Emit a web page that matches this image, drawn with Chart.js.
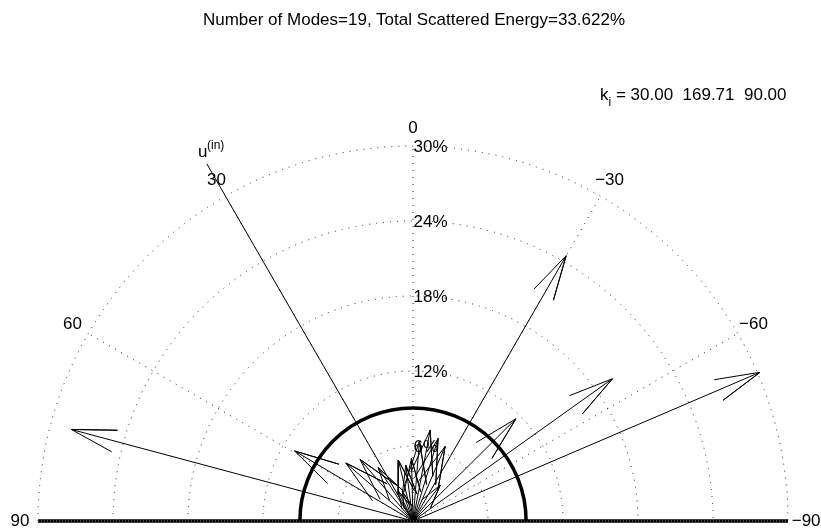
<!DOCTYPE html>
<html>
<head>
<meta charset="utf-8">
<script src="https://cdn.jsdelivr.net/npm/chart.js@4.4.1/dist/chart.umd.min.js"></script>
<style>
  body { margin: 0; background: #fff; }
  #wrap { position: relative; width: 821px; height: 529px; font-family: "Liberation Sans", Arial, sans-serif; }
  #title { position: absolute; left: 0; top: 10px; width: 828px; text-align: center; font-size: 17px; line-height: 20px; color: #000; }
  #kin { position: absolute; left: 600px; top: 85px; font-size: 17px; line-height: 20px; white-space: pre; color: #000; }
  #kin sub { font-size: 12px; vertical-align: -6px; line-height: 0; }
  canvas { position: absolute; left: 0; top: 0; }
</style>
</head>
<body>
<div id="wrap">
  <canvas id="polar" width="821" height="529"></canvas>
  <div id="title">Number of Modes=19, Total Scattered Energy=33.622%</div>
  <div id="kin">k<sub>i</sub> = 30.00  169.71  90.00</div>
</div>
<script>
// scattered modes: angle (deg, from normal, + to the left) and energy (%)
const modeAngles = [75.0, 59.4, 49.2, 40.7, 33.2, 26.3, 19.8, 13.5, 7.4, 1.4, -4.6, -10.7, -16.9, -23.3, -30.0, -37.2, -45.2, -54.5, -66.8];
const modeEnergy = [28.3, 11.0, 7.1, 6.5, 5.1, 2.7, 2.5, 5.0, 4.5, 5.0, 6.4, 7.4, 6.9, 6.5, 24.5, 3.6, 11.6, 19.6, 30.2];

// incident wave
const incidentAngle = 30;
const incidentLength = 33;

// polar grid
const ringTicks = [6, 12, 18, 24, 30];
const ringLabels = ['6%', '12%', '18%', '24%', '30%'];
const spokeAngles = [90, 60, 30, 0, -30, -60, -90];
const spokeLabels = ['90', '60', '30', '0', '\u221230', '\u221260', '\u221290'];
const rMax = 30;
const refRadius = 9.05;

const $ = id => document.getElementById(id);
const rad = a => a * Math.PI / 180;
const polarPt = (a, r) => ({ x: -r * Math.sin(rad(a)), y: r * Math.cos(rad(a)) });
const FONT = '"Liberation Sans", Arial, sans-serif';

// arrow = shaft + two barbs at the tip
function arrowPoints(a, r) {
  const tip = polarPt(a, r);
  const L = Math.min(3.7, 0.55 * r);
  const ux = -tip.x / r, uy = -tip.y / r;
  const barb = s => {
    const c = Math.cos(rad(s)), sn = Math.sin(rad(s));
    return { x: tip.x + L * (ux * c - uy * sn), y: tip.y + L * (ux * sn + uy * c) };
  };
  return [{ x: 0, y: 0 }, tip, barb(14), tip, barb(-14)];
}

const datasets = modeAngles.map((a, i) => ({
  label: 'mode ' + (i + 1),
  data: arrowPoints(a, modeEnergy[i]),
  showLine: true, borderColor: '#000', borderWidth: 1, pointRadius: 0, fill: false
}));
datasets.push({
  label: 'incident',
  data: [{ x: 0, y: 0 }, polarPt(incidentAngle, incidentLength)],
  showLine: true, borderColor: '#000', borderWidth: 1, pointRadius: 0, fill: false
});

const polarDecor = {
  id: 'polarDecor',
  beforeDatasetsDraw(chart) {
    const { ctx, scales: { x, y } } = chart;
    const ox = x.getPixelForValue(0), oy = y.getPixelForValue(0);
    const pr = v => x.getPixelForValue(v) - ox;
    ctx.save();
    ctx.strokeStyle = '#222'; ctx.lineWidth = 1; ctx.setLineDash([1, 6]);
    ringTicks.forEach(r => {
      ctx.beginPath(); ctx.arc(ox, oy, pr(r), Math.PI, 2 * Math.PI); ctx.stroke();
    });
    spokeAngles.forEach(a => {
      const p = polarPt(a, rMax);
      ctx.beginPath(); ctx.moveTo(ox, oy);
      ctx.lineTo(x.getPixelForValue(p.x), y.getPixelForValue(p.y)); ctx.stroke();
    });
    ctx.restore();
  },
  afterDatasetsDraw(chart) {
    const { ctx, scales: { x, y } } = chart;
    const ox = x.getPixelForValue(0), oy = y.getPixelForValue(0);
    const pr = v => x.getPixelForValue(v) - ox;
    ctx.save();
    ctx.strokeStyle = '#000';
    // base line
    ctx.lineWidth = 3.5;
    ctx.beginPath(); ctx.moveTo(x.getPixelForValue(-rMax), oy); ctx.lineTo(x.getPixelForValue(rMax), oy); ctx.stroke();
    ctx.strokeStyle = '#888'; ctx.lineWidth = 1; ctx.setLineDash([1, 2]);
    ctx.beginPath(); ctx.moveTo(x.getPixelForValue(-rMax), oy); ctx.lineTo(x.getPixelForValue(rMax), oy); ctx.stroke();
    ctx.setLineDash([]);
    // reference half circle
    ctx.strokeStyle = '#000'; ctx.lineWidth = 3.5;
    ctx.beginPath(); ctx.arc(ox, oy, pr(refRadius), Math.PI, 2 * Math.PI); ctx.stroke();

    // labels
    ctx.fillStyle = '#000';
    ctx.font = '17px ' + FONT;
    ctx.textAlign = 'left'; ctx.textBaseline = 'middle';
    ringTicks.forEach((r, i) => ctx.fillText(ringLabels[i], ox + 0.5, y.getPixelForValue(r) + 1));
    ctx.textAlign = 'center';
    spokeAngles.forEach((a, i) => {
      const p = polarPt(a, 31.45);
      ctx.fillText(spokeLabels[i], x.getPixelForValue(p.x), y.getPixelForValue(p.y));
    });
    // u^(in) label near the incident line end
    const ux = x.getPixelForValue(-17.2), uy = y.getPixelForValue(29.1);
    ctx.textAlign = 'left'; ctx.textBaseline = 'alphabetic';
    ctx.fillText('u', ux, uy);
    ctx.font = '12px ' + FONT;
    ctx.fillText('(in)', ux + 9, uy - 8);
    ctx.restore();
  }
};

new Chart($('polar'), {
  type: 'scatter',
  data: { datasets },
  options: {
    responsive: false,
    animation: false,
    layout: { padding: 0 },
    plugins: { legend: { display: false }, tooltip: { enabled: false }, title: { display: false } },
    scales: {
      x: { type: 'linear', min: -33.04, max: 32.64, display: false },
      y: { type: 'linear', min: -0.64, max: 41.68, display: false }
    }
  },
  plugins: [polarDecor]
});
</script>
</body>
</html>
